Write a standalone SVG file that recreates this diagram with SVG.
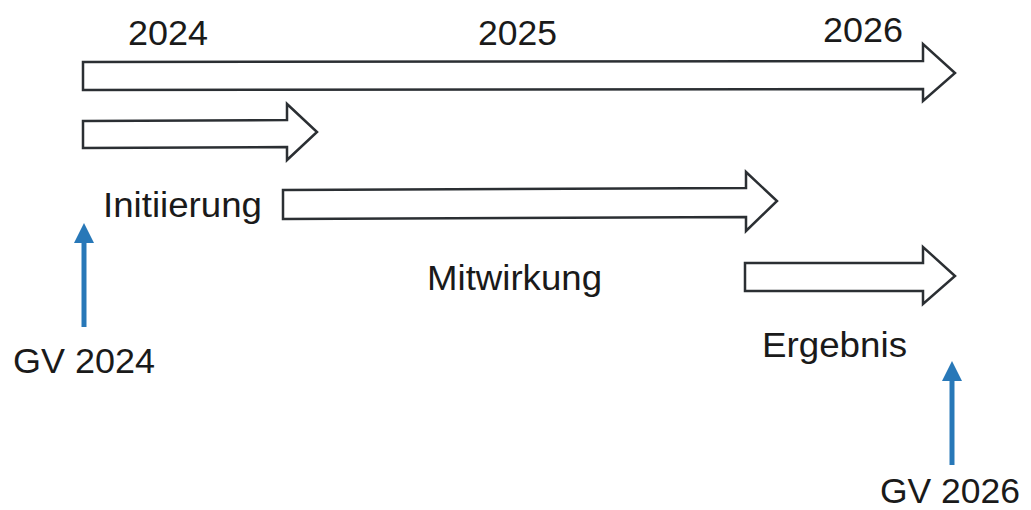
<svg xmlns="http://www.w3.org/2000/svg" width="1031" height="510" viewBox="0 0 1031 510">
<style>
.bar{fill:#ffffff;stroke:#2b2f33;stroke-width:2.5;stroke-linejoin:miter}
.lbl{font-family:"Liberation Sans",Arial,sans-serif;font-size:35px;fill:#1a1a1a}
.gv{stroke:#2878b8;stroke-width:5;fill:none}
</style>
<defs>
<marker id="bluehead" viewBox="0 0 10 10" refX="0" refY="5" markerWidth="4" markerHeight="4.2" markerUnits="strokeWidth" orient="auto">
<path d="M0,0 L10,5 L0,10 Z" fill="#2878b8"/>
</marker>
</defs>
<rect width="1031" height="510" fill="#ffffff"/>
<g id="timeline">
<path class="bar" d="M83,62 L923,61 L923,44 L955,73 L923,101 L923,89 L83,90 Z"/>
<text class="lbl" x="128" y="45" textLength="80" lengthAdjust="spacingAndGlyphs">2024</text>
<text class="lbl" x="478" y="45" textLength="79" lengthAdjust="spacingAndGlyphs">2025</text>
<text class="lbl" x="823" y="42" textLength="80" lengthAdjust="spacingAndGlyphs">2026</text>
</g>
<g id="initiierung">
<path class="bar" d="M83,121 L287,120 L287,104 L317,132 L287,160 L287,147 L83,148 Z"/>
<text class="lbl" x="103" y="217" textLength="159" lengthAdjust="spacingAndGlyphs">Initiierung</text>
</g>
<g id="mitwirkung">
<path class="bar" d="M283,190 L746,188 L746,172 L777,201 L746,231 L746,217 L283,219 Z"/>
<text class="lbl" x="427" y="290" textLength="175" lengthAdjust="spacingAndGlyphs">Mitwirkung</text>
</g>
<g id="ergebnis">
<path class="bar" d="M745,263 L923,263 L923,247 L955,276 L923,304 L923,291 L745,291 Z"/>
<text class="lbl" x="762" y="357" textLength="145" lengthAdjust="spacingAndGlyphs">Ergebnis</text>
</g>
<g id="gv2024">
<text class="lbl" x="13" y="373" textLength="142" lengthAdjust="spacingAndGlyphs">GV 2024</text>
</g>
<g id="gv2026">
<text class="lbl" x="880" y="503" textLength="140" lengthAdjust="spacingAndGlyphs">GV 2026</text>
</g>
<g id="connectors">
<line class="gv" x1="84" y1="327" x2="84" y2="243" marker-end="url(#bluehead)"/>
<line class="gv" x1="952" y1="465" x2="952" y2="381" marker-end="url(#bluehead)"/>
</g>
</svg>
